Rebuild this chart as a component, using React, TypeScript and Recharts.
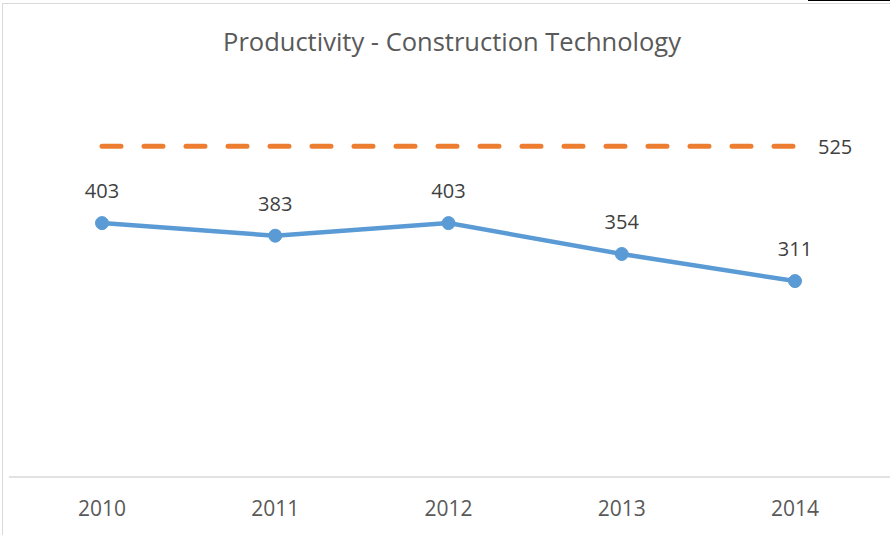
import React from "react";
import { LineChart, Line, XAxis, YAxis, LabelList } from "recharts";

const years = ["2010", "2011", "2012", "2013", "2014"];
const productivity = [403, 383, 403, 354, 311];
const target = [525, 525, 525, 525, 525];

const data = years.map((year, i) => ({
  year,
  productivity: productivity[i],
  target: target[i],
}));

const FONT = "'Open Sans', sans-serif";

// only label the last point of the target line, to its right
const TargetLabel = (props: any) => {
  const { x, y, value, index } = props;
  if (index !== years.length - 1) return null;
  return (
    <text x={x + 23} y={y} dy={8} fill="#404040" fontSize={20} fontFamily={FONT}>
      {value}
    </text>
  );
};

const App: React.FC = () => {
  return (
    <div style={{ position: "absolute", left: 0, top: 0, width: 890, height: 535, background: "#fff" }}>
      {/* chart area border bits */}
      <div style={{ position: "absolute", left: 2, top: 3, width: 888, height: 532, borderLeft: "1px solid #D9D9D9", borderTop: "1px solid #D9D9D9" }} />
      <div style={{ position: "absolute", left: 808, top: 0, width: 82, height: 1, background: "#000" }} />
      <div
        style={{
          position: "absolute",
          top: 23,
          left: 7,
          width: 890,
          textAlign: "center",
          fontFamily: FONT,
          fontSize: 25.5,
          lineHeight: "36px",
          color: "#595959",
        }}
      >
        Productivity - Construction Technology
      </div>
      <LineChart
        width={890}
        height={535}
        data={data}
        margin={{ top: 99, right: 0, bottom: 0, left: 9 }}
        style={{ position: "absolute", left: 0, top: 0 }}
      >
        <XAxis
          dataKey="year"
          height={58}
          padding={{ left: 93, right: 95 }}
          axisLine={{ stroke: "#D9D9D9", strokeWidth: 1.5 }}
          tickLine={false}
          tickMargin={18}
          tick={{ fill: "#595959", fontSize: 21, fontFamily: FONT }}
        />
        <YAxis hide domain={[0, 600]} />
        <Line
          dataKey="target"
          stroke="#ED7D31"
          strokeWidth={5}
          strokeDasharray="19 23"
          strokeLinecap="round"
          dot={false}
          isAnimationActive={false}
        >
          <LabelList dataKey="target" content={TargetLabel} />
        </Line>
        <Line
          dataKey="productivity"
          stroke="#5B9BD5"
          strokeWidth={4.5}
          dot={{ r: 6.5, fill: "#5B9BD5", stroke: "#5B9BD5", strokeWidth: 1 }}
          isAnimationActive={false}
        >
          <LabelList
            dataKey="productivity"
            position="top"
            offset={25}
            fill="#404040"
            fontSize={20}
            fontFamily={FONT}
          />
        </Line>
      </LineChart>
    </div>
  );
};

export default App;
